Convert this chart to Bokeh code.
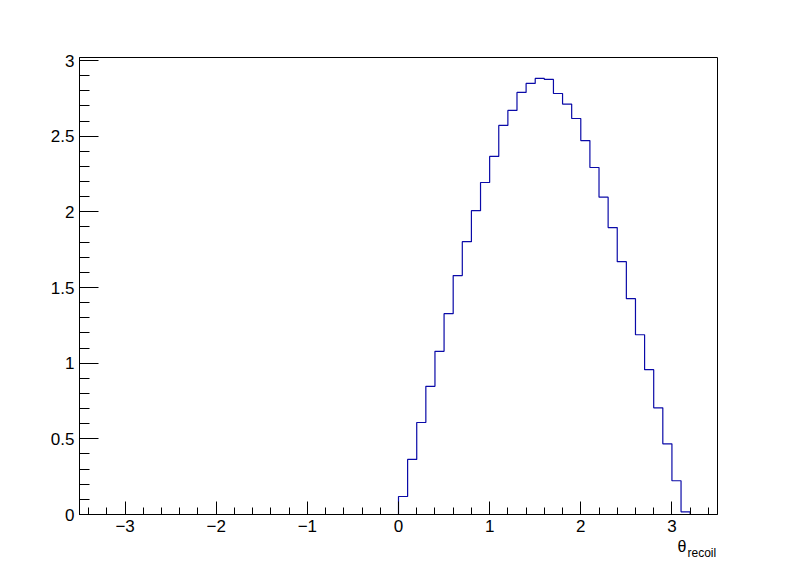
import numpy as np
from bokeh.plotting import figure
from bokeh.models import FixedTicker, Label, Range1d
from bokeh.embed import file_html
from bokeh.resources import INLINE

# ---- data ----
bin_width = 0.1
first_edge = 0.0
counts = [0.119, 0.364, 0.608, 0.847, 1.078, 1.327, 1.579, 1.803, 2.008, 2.194,
          2.366, 2.571, 2.670, 2.789, 2.849, 2.882, 2.875, 2.782, 2.712, 2.617,
          2.471, 2.293, 2.097, 1.896, 1.671, 1.426, 1.188, 0.957, 0.705, 0.467,
          0.223, 0.018]
x_ticks = [-3, -2, -1, 0, 1, 2, 3]
x_tick_labels = {-3: "\u22123", -2: "\u22122", -1: "\u22121", 0: "0", 1: "1", 2: "2", 3: "3"}
y_ticks = [0, 0.5, 1, 1.5, 2, 2.5, 3]
y_tick_labels = {0: "0", 0.5: "0.5", 1: "1", 1.5: "1.5", 2: "2", 2.5: "2.5", 3: "3"}
x_min, x_max = -3.5, 3.5
y_max = 3.02

edges = first_edge + bin_width * np.arange(len(counts) + 1)
sx = np.concatenate([[edges[0]], edges])
sy = np.concatenate([[0.0], counts, [0.0]])

FONT = "Liberation Sans"

p = figure(width=796, height=572, output_backend="svg", toolbar_location=None,
           x_range=Range1d(x_min, x_max), y_range=Range1d(0, y_max),
           min_border_left=79, min_border_right=79, min_border_top=57, min_border_bottom=58)
p.background_fill_color = "white"
p.border_fill_color = "white"
p.outline_line_color = "black"
p.outline_line_width = 1
p.xgrid.visible = False
p.ygrid.visible = False

p.step(sx, sy, mode="after", line_color="#0a0aa8", line_width=1.2)

minor_x = [round(v, 2) for v in np.arange(-3.4, 3.41, 0.2)]
minor_y = [round(v, 2) for v in np.arange(0, 3.01, 0.1)]
p.xaxis.ticker = FixedTicker(ticks=x_ticks, minor_ticks=minor_x)
p.yaxis.ticker = FixedTicker(ticks=y_ticks, minor_ticks=minor_y)
p.xaxis.major_label_overrides = x_tick_labels
p.yaxis.major_label_overrides = y_tick_labels

for ax in (p.xaxis, p.yaxis):
    ax.axis_line_color = "black"
    ax.axis_line_width = 1
    ax.major_tick_line_color = "black"
    ax.minor_tick_line_color = "black"
    ax.major_tick_out = 0
    ax.minor_tick_out = 0
    ax.major_label_text_font = FONT
    ax.major_label_text_font_size = "17px"
    ax.major_label_text_color = "black"

p.xaxis.major_tick_in = 13
p.xaxis.minor_tick_in = 7
p.yaxis.major_tick_in = 19
p.yaxis.minor_tick_in = 10
p.xaxis.major_label_standoff = 5
p.yaxis.major_label_standoff = 5

# x-axis title "θ_recoil", right-aligned under the axis end
# (placed in a side panel so it is not clipped to the plot frame)
p.add_layout(Label(x=677, y=546, x_units="canvas", y_units="canvas", text="\u03b8",
                   text_font=FONT, text_font_size="16px",
                   text_color="black", text_baseline="alphabetic"), "right")
p.add_layout(Label(x=687, y=552, x_units="canvas", y_units="canvas", text="recoil",
                   text_font=FONT, text_font_size="12px",
                   text_color="black", text_baseline="alphabetic"), "right")

open("out.html", "w").write(file_html(p, INLINE))
